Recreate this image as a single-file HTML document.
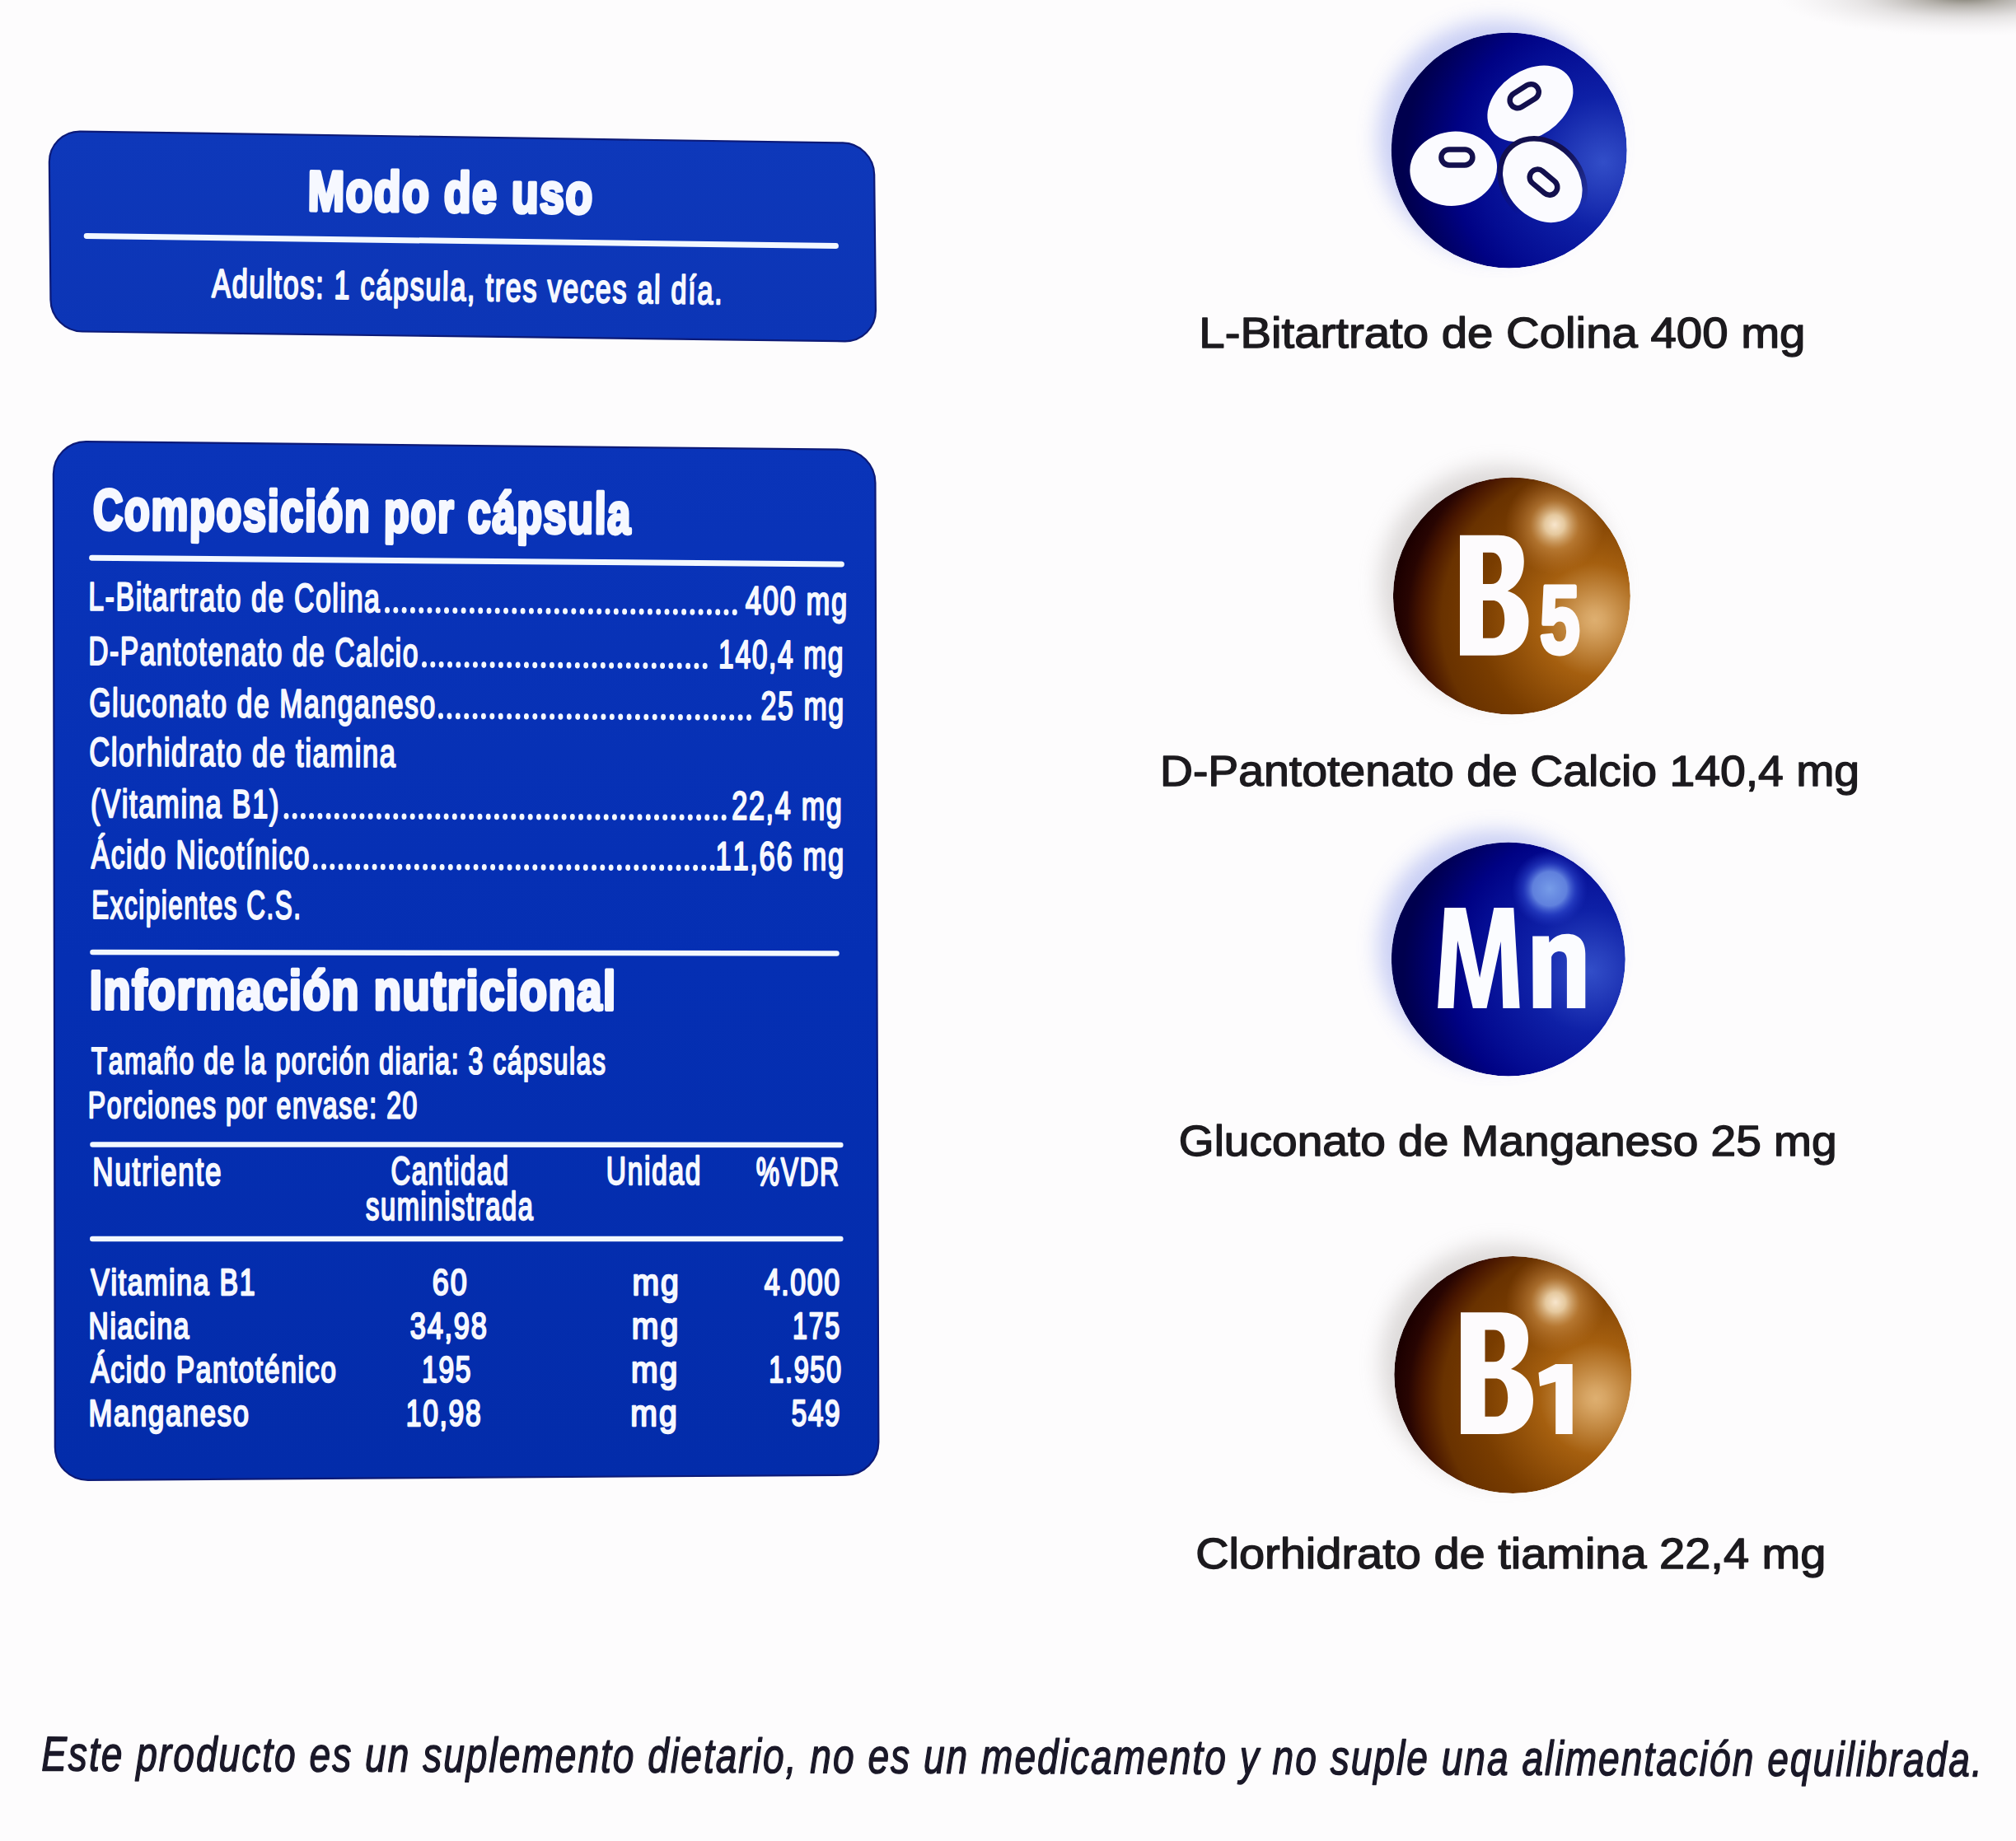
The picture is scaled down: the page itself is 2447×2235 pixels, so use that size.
<!DOCTYPE html><html><head><meta charset="utf-8"><title>Modo de uso</title><style>
html,body{margin:0;padding:0;background:#fdfcfd;}body{width:2447px;height:2235px;overflow:hidden;}
svg{display:block;font-family:"Liberation Sans",sans-serif;}text{font-kerning:none;font-variant-ligatures:none;white-space:pre;}
</style></head><body>
<svg xmlns="http://www.w3.org/2000/svg" width="2447" height="2235" viewBox="0 0 2447 2235">
<defs>
<filter id="blur20" x="-100%" y="-200%" width="300%" height="500%"><feGaussianBlur stdDeviation="14"/></filter>
<filter id="blurG" x="-50%" y="-50%" width="200%" height="200%"><feGaussianBlur stdDeviation="13"/></filter>
<filter id="blur8" x="-50%" y="-50%" width="200%" height="200%"><feGaussianBlur stdDeviation="7"/></filter>
<filter id="blur3" x="-50%" y="-50%" width="200%" height="200%"><feGaussianBlur stdDeviation="2.5"/></filter>
<linearGradient id="gBox1" x1="0" y1="0" x2="0" y2="1"><stop offset="0" stop-color="#0e38ba"/><stop offset="1" stop-color="#0c35b6"/></linearGradient>
<linearGradient id="gBox2" x1="0" y1="0" x2="0" y2="1"><stop offset="0" stop-color="#0a34b9"/><stop offset="0.5" stop-color="#052fb3"/><stop offset="1" stop-color="#032caa"/></linearGradient>
<radialGradient id="gBlueC" cx="0.9" cy="0.55" r="0.85"><stop offset="0.00" stop-color="rgb(50,78,200)"/><stop offset="0.12" stop-color="rgb(38,62,188)"/><stop offset="0.33" stop-color="rgb(14,32,166)"/><stop offset="0.62" stop-color="rgb(4,12,146)"/><stop offset="0.75" stop-color="rgb(0,2,132)"/><stop offset="0.95" stop-color="rgb(0,0,88)"/><stop offset="1.00" stop-color="rgb(0,0,78)"/></radialGradient>
<radialGradient id="gBlue" cx="0.85" cy="0.55" r="0.8"><stop offset="0.00" stop-color="rgb(50,78,200)"/><stop offset="0.12" stop-color="rgb(38,62,188)"/><stop offset="0.33" stop-color="rgb(14,32,166)"/><stop offset="0.62" stop-color="rgb(4,12,146)"/><stop offset="0.75" stop-color="rgb(0,2,132)"/><stop offset="0.95" stop-color="rgb(0,0,88)"/><stop offset="1.00" stop-color="rgb(0,0,78)"/></radialGradient>
<radialGradient id="gBrown" cx="0.85" cy="0.6" r="0.85"><stop offset="0.00" stop-color="rgb(222,175,112)"/><stop offset="0.05" stop-color="rgb(215,165,100)"/><stop offset="0.28" stop-color="rgb(165,95,15)"/><stop offset="0.58" stop-color="rgb(120,60,0)"/><stop offset="0.76" stop-color="rgb(105,50,0)"/><stop offset="0.86" stop-color="rgb(72,22,0)"/><stop offset="0.93" stop-color="rgb(40,5,2)"/><stop offset="1.00" stop-color="rgb(28,0,0)"/></radialGradient>
<radialGradient id="hlBlue" cx="0.5" cy="0.5" r="0.5"><stop offset="0" stop-color="rgb(118,156,232)" stop-opacity="1"/><stop offset="0.45" stop-color="rgb(105,140,228)" stop-opacity="0.9"/><stop offset="0.7" stop-color="rgb(60,90,220)" stop-opacity="0.45"/><stop offset="1" stop-color="rgb(40,60,200)" stop-opacity="0"/></radialGradient>
<radialGradient id="hlBlue2" cx="0.5" cy="0.5" r="0.5"><stop offset="0" stop-color="#4a6ae0" stop-opacity="0.75"/><stop offset="1" stop-color="#3050d0" stop-opacity="0"/></radialGradient>
<radialGradient id="hlBrown" cx="0.5" cy="0.5" r="0.5"><stop offset="0" stop-color="rgb(248,230,205)" stop-opacity="1"/><stop offset="0.2" stop-color="rgb(240,215,175)" stop-opacity="0.9"/><stop offset="0.5" stop-color="rgb(210,150,80)" stop-opacity="0.55"/><stop offset="1" stop-color="rgb(190,120,50)" stop-opacity="0"/></radialGradient>
<radialGradient id="shadeB" cx="0.62" cy="0.38" r="0.62"><stop offset="0.75" stop-color="#000" stop-opacity="0"/><stop offset="1" stop-color="#000" stop-opacity="0.18"/></radialGradient>
</defs>
<radialGradient id="gSmudge" gradientUnits="userSpaceOnUse" cx="0" cy="0" r="1" gradientTransform="translate(2385 -4) scale(230 48)"><stop offset="0" stop-color="rgb(112,110,96)" stop-opacity="0.92"/><stop offset="0.22" stop-color="rgb(135,130,120)" stop-opacity="0.62"/><stop offset="0.55" stop-color="rgb(175,170,168)" stop-opacity="0.3"/><stop offset="1" stop-color="rgb(220,215,220)" stop-opacity="0"/></radialGradient><rect x="2100" y="0" width="347" height="70" fill="url(#gSmudge)"/>
<path d="M59.86 197.00C59.66 176.01 76.51 159.25 97.50 159.57L1022.80 173.43C1043.79 173.75 1060.98 191.01 1061.19 212.00L1062.91 376.80C1063.12 397.79 1046.29 414.58 1025.30 414.31L99.80 402.49C78.81 402.22 61.64 384.99 61.44 364.00Z" fill="url(#gBox1)" stroke="#0c1a78" stroke-width="2.2"/>
<text x="373.53" y="255.20" font-size="68.17" font-weight="bold" textLength="346.86" lengthAdjust="spacingAndGlyphs" fill="#f6f8ff" transform="rotate(0.600 377.10 255.20)" stroke="#f6f8ff" stroke-width="4.60" stroke-linejoin="round" letter-spacing="2.045">Modo de uso</text>
<line x1="105.20" y1="286.55" x2="1014.50" y2="298.55" stroke="#f2f8ff" stroke-width="7.00" stroke-linecap="round"/>
<text x="257.08" y="360.45" font-size="48.40" textLength="621.09" lengthAdjust="spacingAndGlyphs" fill="#f6f8ff" transform="rotate(0.800 257.15 360.45)" stroke="#f6f8ff" stroke-width="2.30" stroke-linejoin="round" letter-spacing="2.420">Adultos: 1 cápsula, tres veces al día.</text>
<path d="M64.87 575.60C64.83 553.51 82.71 535.79 104.80 536.03L1022.30 545.77C1044.39 546.01 1062.36 564.11 1062.44 586.20L1066.36 1750.50C1066.44 1772.59 1048.59 1790.62 1026.50 1790.76L106.90 1796.84C84.81 1796.98 66.87 1779.19 66.83 1757.10Z" fill="url(#gBox2)" stroke="#0c1a78" stroke-width="2.2"/>
<text x="112.67" y="642.55" font-size="69.48" font-weight="bold" textLength="654.18" lengthAdjust="spacingAndGlyphs" fill="#f6f8ff" transform="rotate(0.450 114.75 642.55)" stroke="#f6f8ff" stroke-width="4.30" stroke-linejoin="round" letter-spacing="2.084">Composición por cápsula</text>
<line x1="111.60" y1="677.33" x2="1021.40" y2="684.97" stroke="#f2f8ff" stroke-width="7.00" stroke-linecap="round"/>
<text x="107.19" y="740.65" font-size="48.26" textLength="355.35" lengthAdjust="spacingAndGlyphs" fill="#f6f8ff" transform="rotate(0.350 109.95 740.65)" stroke="#f6f8ff" stroke-width="2.30" stroke-linejoin="round" letter-spacing="2.413">L-Bitartrato de Colina</text>
<g fill="#f4f8ff" transform="rotate(0.350 467.00 743.99)"><ellipse cx="470.0" cy="740.7" rx="3.0" ry="3.8"/><ellipse cx="480.3" cy="740.7" rx="3.0" ry="3.8"/><ellipse cx="490.6" cy="740.7" rx="3.0" ry="3.8"/><ellipse cx="500.9" cy="740.7" rx="3.0" ry="3.8"/><ellipse cx="511.2" cy="740.7" rx="3.0" ry="3.8"/><ellipse cx="521.4" cy="740.7" rx="3.0" ry="3.8"/><ellipse cx="531.7" cy="740.7" rx="3.0" ry="3.8"/><ellipse cx="542.0" cy="740.7" rx="3.0" ry="3.8"/><ellipse cx="552.3" cy="740.7" rx="3.0" ry="3.8"/><ellipse cx="562.6" cy="740.7" rx="3.0" ry="3.8"/><ellipse cx="572.9" cy="740.7" rx="3.0" ry="3.8"/><ellipse cx="583.2" cy="740.7" rx="3.0" ry="3.8"/><ellipse cx="593.5" cy="740.7" rx="3.0" ry="3.8"/><ellipse cx="603.7" cy="740.7" rx="3.0" ry="3.8"/><ellipse cx="614.0" cy="740.7" rx="3.0" ry="3.8"/><ellipse cx="624.3" cy="740.7" rx="3.0" ry="3.8"/><ellipse cx="634.6" cy="740.7" rx="3.0" ry="3.8"/><ellipse cx="644.9" cy="740.7" rx="3.0" ry="3.8"/><ellipse cx="655.2" cy="740.7" rx="3.0" ry="3.8"/><ellipse cx="665.5" cy="740.7" rx="3.0" ry="3.8"/><ellipse cx="675.8" cy="740.7" rx="3.0" ry="3.8"/><ellipse cx="686.0" cy="740.7" rx="3.0" ry="3.8"/><ellipse cx="696.3" cy="740.7" rx="3.0" ry="3.8"/><ellipse cx="706.6" cy="740.7" rx="3.0" ry="3.8"/><ellipse cx="716.9" cy="740.7" rx="3.0" ry="3.8"/><ellipse cx="727.2" cy="740.7" rx="3.0" ry="3.8"/><ellipse cx="737.5" cy="740.7" rx="3.0" ry="3.8"/><ellipse cx="747.8" cy="740.7" rx="3.0" ry="3.8"/><ellipse cx="758.1" cy="740.7" rx="3.0" ry="3.8"/><ellipse cx="768.3" cy="740.7" rx="3.0" ry="3.8"/><ellipse cx="778.6" cy="740.7" rx="3.0" ry="3.8"/><ellipse cx="788.9" cy="740.7" rx="3.0" ry="3.8"/><ellipse cx="799.2" cy="740.7" rx="3.0" ry="3.8"/><ellipse cx="809.5" cy="740.7" rx="3.0" ry="3.8"/><ellipse cx="819.8" cy="740.7" rx="3.0" ry="3.8"/><ellipse cx="830.1" cy="740.7" rx="3.0" ry="3.8"/><ellipse cx="840.4" cy="740.7" rx="3.0" ry="3.8"/><ellipse cx="850.6" cy="740.7" rx="3.0" ry="3.8"/><ellipse cx="860.9" cy="740.7" rx="3.0" ry="3.8"/><ellipse cx="871.2" cy="740.7" rx="3.0" ry="3.8"/><ellipse cx="881.5" cy="740.7" rx="3.0" ry="3.8"/><ellipse cx="891.8" cy="740.7" rx="3.0" ry="3.8"/></g>
<text x="904.86" y="745.51" font-size="48.26" textLength="124.92" lengthAdjust="spacingAndGlyphs" fill="#f6f8ff" transform="rotate(0.350 905.65 745.51)" stroke="#f6f8ff" stroke-width="2.30" stroke-linejoin="round" letter-spacing="2.413">400 mg</text>
<text x="107.21" y="806.65" font-size="48.26" textLength="401.70" lengthAdjust="spacingAndGlyphs" fill="#f6f8ff" transform="rotate(0.310 109.95 806.65)" stroke="#f6f8ff" stroke-width="2.30" stroke-linejoin="round" letter-spacing="2.413">D-Pantotenato de Calcio</text>
<g fill="#f4f8ff" transform="rotate(0.310 512.00 809.98)"><ellipse cx="515.0" cy="806.7" rx="3.0" ry="3.8"/><ellipse cx="525.3" cy="806.7" rx="3.0" ry="3.8"/><ellipse cx="535.6" cy="806.7" rx="3.0" ry="3.8"/><ellipse cx="546.0" cy="806.7" rx="3.0" ry="3.8"/><ellipse cx="556.3" cy="806.7" rx="3.0" ry="3.8"/><ellipse cx="566.6" cy="806.7" rx="3.0" ry="3.8"/><ellipse cx="576.9" cy="806.7" rx="3.0" ry="3.8"/><ellipse cx="587.3" cy="806.7" rx="3.0" ry="3.8"/><ellipse cx="597.6" cy="806.7" rx="3.0" ry="3.8"/><ellipse cx="607.9" cy="806.7" rx="3.0" ry="3.8"/><ellipse cx="618.2" cy="806.7" rx="3.0" ry="3.8"/><ellipse cx="628.6" cy="806.7" rx="3.0" ry="3.8"/><ellipse cx="638.9" cy="806.7" rx="3.0" ry="3.8"/><ellipse cx="649.2" cy="806.7" rx="3.0" ry="3.8"/><ellipse cx="659.5" cy="806.7" rx="3.0" ry="3.8"/><ellipse cx="669.9" cy="806.7" rx="3.0" ry="3.8"/><ellipse cx="680.2" cy="806.7" rx="3.0" ry="3.8"/><ellipse cx="690.5" cy="806.7" rx="3.0" ry="3.8"/><ellipse cx="700.8" cy="806.7" rx="3.0" ry="3.8"/><ellipse cx="711.2" cy="806.7" rx="3.0" ry="3.8"/><ellipse cx="721.5" cy="806.7" rx="3.0" ry="3.8"/><ellipse cx="731.8" cy="806.7" rx="3.0" ry="3.8"/><ellipse cx="742.1" cy="806.7" rx="3.0" ry="3.8"/><ellipse cx="752.5" cy="806.7" rx="3.0" ry="3.8"/><ellipse cx="762.8" cy="806.7" rx="3.0" ry="3.8"/><ellipse cx="773.1" cy="806.7" rx="3.0" ry="3.8"/><ellipse cx="783.4" cy="806.7" rx="3.0" ry="3.8"/><ellipse cx="793.8" cy="806.7" rx="3.0" ry="3.8"/><ellipse cx="804.1" cy="806.7" rx="3.0" ry="3.8"/><ellipse cx="814.4" cy="806.7" rx="3.0" ry="3.8"/><ellipse cx="824.7" cy="806.7" rx="3.0" ry="3.8"/><ellipse cx="835.1" cy="806.7" rx="3.0" ry="3.8"/><ellipse cx="845.4" cy="806.7" rx="3.0" ry="3.8"/><ellipse cx="855.7" cy="806.7" rx="3.0" ry="3.8"/></g>
<text x="872.10" y="810.79" font-size="48.26" textLength="153.09" lengthAdjust="spacingAndGlyphs" fill="#f6f8ff" transform="rotate(0.310 874.65 810.79)" stroke="#f6f8ff" stroke-width="2.30" stroke-linejoin="round" letter-spacing="2.413">140,4 mg</text>
<text x="108.26" y="869.45" font-size="48.26" textLength="421.68" lengthAdjust="spacingAndGlyphs" fill="#f6f8ff" transform="rotate(0.270 109.95 869.45)" stroke="#f6f8ff" stroke-width="2.30" stroke-linejoin="round" letter-spacing="2.413">Gluconato de Manganeso</text>
<g fill="#f4f8ff" transform="rotate(0.270 532.00 872.59)"><ellipse cx="535.0" cy="869.3" rx="3.0" ry="3.8"/><ellipse cx="545.4" cy="869.3" rx="3.0" ry="3.8"/><ellipse cx="555.8" cy="869.3" rx="3.0" ry="3.8"/><ellipse cx="566.2" cy="869.3" rx="3.0" ry="3.8"/><ellipse cx="576.6" cy="869.3" rx="3.0" ry="3.8"/><ellipse cx="586.9" cy="869.3" rx="3.0" ry="3.8"/><ellipse cx="597.3" cy="869.3" rx="3.0" ry="3.8"/><ellipse cx="607.7" cy="869.3" rx="3.0" ry="3.8"/><ellipse cx="618.1" cy="869.3" rx="3.0" ry="3.8"/><ellipse cx="628.5" cy="869.3" rx="3.0" ry="3.8"/><ellipse cx="638.9" cy="869.3" rx="3.0" ry="3.8"/><ellipse cx="649.3" cy="869.3" rx="3.0" ry="3.8"/><ellipse cx="659.7" cy="869.3" rx="3.0" ry="3.8"/><ellipse cx="670.1" cy="869.3" rx="3.0" ry="3.8"/><ellipse cx="680.4" cy="869.3" rx="3.0" ry="3.8"/><ellipse cx="690.8" cy="869.3" rx="3.0" ry="3.8"/><ellipse cx="701.2" cy="869.3" rx="3.0" ry="3.8"/><ellipse cx="711.6" cy="869.3" rx="3.0" ry="3.8"/><ellipse cx="722.0" cy="869.3" rx="3.0" ry="3.8"/><ellipse cx="732.4" cy="869.3" rx="3.0" ry="3.8"/><ellipse cx="742.8" cy="869.3" rx="3.0" ry="3.8"/><ellipse cx="753.2" cy="869.3" rx="3.0" ry="3.8"/><ellipse cx="763.6" cy="869.3" rx="3.0" ry="3.8"/><ellipse cx="773.9" cy="869.3" rx="3.0" ry="3.8"/><ellipse cx="784.3" cy="869.3" rx="3.0" ry="3.8"/><ellipse cx="794.7" cy="869.3" rx="3.0" ry="3.8"/><ellipse cx="805.1" cy="869.3" rx="3.0" ry="3.8"/><ellipse cx="815.5" cy="869.3" rx="3.0" ry="3.8"/><ellipse cx="825.9" cy="869.3" rx="3.0" ry="3.8"/><ellipse cx="836.3" cy="869.3" rx="3.0" ry="3.8"/><ellipse cx="846.7" cy="869.3" rx="3.0" ry="3.8"/><ellipse cx="857.1" cy="869.3" rx="3.0" ry="3.8"/><ellipse cx="867.4" cy="869.3" rx="3.0" ry="3.8"/><ellipse cx="877.8" cy="869.3" rx="3.0" ry="3.8"/><ellipse cx="888.2" cy="869.3" rx="3.0" ry="3.8"/><ellipse cx="898.6" cy="869.3" rx="3.0" ry="3.8"/><ellipse cx="909.0" cy="869.3" rx="3.0" ry="3.8"/></g>
<text x="923.45" y="873.29" font-size="48.26" textLength="102.26" lengthAdjust="spacingAndGlyphs" fill="#f6f8ff" transform="rotate(0.270 925.15 873.29)" stroke="#f6f8ff" stroke-width="2.30" stroke-linejoin="round" letter-spacing="2.413">25 mg</text>
<text x="108.21" y="929.35" font-size="48.26" textLength="373.36" lengthAdjust="spacingAndGlyphs" fill="#f6f8ff" transform="rotate(0.230 109.95 929.35)" stroke="#f6f8ff" stroke-width="2.30" stroke-linejoin="round" letter-spacing="2.413">Clorhidrato de tiamina</text>
<text x="110.02" y="992.05" font-size="48.26" textLength="230.07" lengthAdjust="spacingAndGlyphs" fill="#f6f8ff" transform="rotate(0.190 112.15 992.05)" stroke="#f6f8ff" stroke-width="2.30" stroke-linejoin="round" letter-spacing="2.413">(Vitamina B1)</text>
<g fill="#f4f8ff" transform="rotate(0.190 344.50 993.97)"><ellipse cx="347.5" cy="990.7" rx="3.0" ry="3.8"/><ellipse cx="357.7" cy="990.7" rx="3.0" ry="3.8"/><ellipse cx="367.9" cy="990.7" rx="3.0" ry="3.8"/><ellipse cx="378.1" cy="990.7" rx="3.0" ry="3.8"/><ellipse cx="388.4" cy="990.7" rx="3.0" ry="3.8"/><ellipse cx="398.6" cy="990.7" rx="3.0" ry="3.8"/><ellipse cx="408.8" cy="990.7" rx="3.0" ry="3.8"/><ellipse cx="419.0" cy="990.7" rx="3.0" ry="3.8"/><ellipse cx="429.2" cy="990.7" rx="3.0" ry="3.8"/><ellipse cx="439.4" cy="990.7" rx="3.0" ry="3.8"/><ellipse cx="449.7" cy="990.7" rx="3.0" ry="3.8"/><ellipse cx="459.9" cy="990.7" rx="3.0" ry="3.8"/><ellipse cx="470.1" cy="990.7" rx="3.0" ry="3.8"/><ellipse cx="480.3" cy="990.7" rx="3.0" ry="3.8"/><ellipse cx="490.5" cy="990.7" rx="3.0" ry="3.8"/><ellipse cx="500.7" cy="990.7" rx="3.0" ry="3.8"/><ellipse cx="510.9" cy="990.7" rx="3.0" ry="3.8"/><ellipse cx="521.2" cy="990.7" rx="3.0" ry="3.8"/><ellipse cx="531.4" cy="990.7" rx="3.0" ry="3.8"/><ellipse cx="541.6" cy="990.7" rx="3.0" ry="3.8"/><ellipse cx="551.8" cy="990.7" rx="3.0" ry="3.8"/><ellipse cx="562.0" cy="990.7" rx="3.0" ry="3.8"/><ellipse cx="572.2" cy="990.7" rx="3.0" ry="3.8"/><ellipse cx="582.5" cy="990.7" rx="3.0" ry="3.8"/><ellipse cx="592.7" cy="990.7" rx="3.0" ry="3.8"/><ellipse cx="602.9" cy="990.7" rx="3.0" ry="3.8"/><ellipse cx="613.1" cy="990.7" rx="3.0" ry="3.8"/><ellipse cx="623.3" cy="990.7" rx="3.0" ry="3.8"/><ellipse cx="633.5" cy="990.7" rx="3.0" ry="3.8"/><ellipse cx="643.7" cy="990.7" rx="3.0" ry="3.8"/><ellipse cx="654.0" cy="990.7" rx="3.0" ry="3.8"/><ellipse cx="664.2" cy="990.7" rx="3.0" ry="3.8"/><ellipse cx="674.4" cy="990.7" rx="3.0" ry="3.8"/><ellipse cx="684.6" cy="990.7" rx="3.0" ry="3.8"/><ellipse cx="694.8" cy="990.7" rx="3.0" ry="3.8"/><ellipse cx="705.0" cy="990.7" rx="3.0" ry="3.8"/><ellipse cx="715.3" cy="990.7" rx="3.0" ry="3.8"/><ellipse cx="725.5" cy="990.7" rx="3.0" ry="3.8"/><ellipse cx="735.7" cy="990.7" rx="3.0" ry="3.8"/><ellipse cx="745.9" cy="990.7" rx="3.0" ry="3.8"/><ellipse cx="756.1" cy="990.7" rx="3.0" ry="3.8"/><ellipse cx="766.3" cy="990.7" rx="3.0" ry="3.8"/><ellipse cx="776.5" cy="990.7" rx="3.0" ry="3.8"/><ellipse cx="786.8" cy="990.7" rx="3.0" ry="3.8"/><ellipse cx="797.0" cy="990.7" rx="3.0" ry="3.8"/><ellipse cx="807.2" cy="990.7" rx="3.0" ry="3.8"/><ellipse cx="817.4" cy="990.7" rx="3.0" ry="3.8"/><ellipse cx="827.6" cy="990.7" rx="3.0" ry="3.8"/><ellipse cx="837.8" cy="990.7" rx="3.0" ry="3.8"/><ellipse cx="848.1" cy="990.7" rx="3.0" ry="3.8"/><ellipse cx="858.3" cy="990.7" rx="3.0" ry="3.8"/><ellipse cx="868.5" cy="990.7" rx="3.0" ry="3.8"/><ellipse cx="878.7" cy="990.7" rx="3.0" ry="3.8"/></g>
<text x="888.23" y="994.63" font-size="48.26" textLength="135.22" lengthAdjust="spacingAndGlyphs" fill="#f6f8ff" transform="rotate(0.190 889.95 994.63)" stroke="#f6f8ff" stroke-width="2.30" stroke-linejoin="round" letter-spacing="2.413">22,4 mg</text>
<text x="110.78" y="1053.75" font-size="48.26" textLength="266.14" lengthAdjust="spacingAndGlyphs" fill="#f6f8ff" transform="rotate(0.150 110.85 1053.75)" stroke="#f6f8ff" stroke-width="2.30" stroke-linejoin="round" letter-spacing="2.413">Ácido Nicotínico</text>
<g fill="#f4f8ff" transform="rotate(0.150 379.80 1055.61)"><ellipse cx="382.8" cy="1052.3" rx="3.0" ry="3.8"/><ellipse cx="393.1" cy="1052.3" rx="3.0" ry="3.8"/><ellipse cx="403.3" cy="1052.3" rx="3.0" ry="3.8"/><ellipse cx="413.6" cy="1052.3" rx="3.0" ry="3.8"/><ellipse cx="423.8" cy="1052.3" rx="3.0" ry="3.8"/><ellipse cx="434.1" cy="1052.3" rx="3.0" ry="3.8"/><ellipse cx="444.3" cy="1052.3" rx="3.0" ry="3.8"/><ellipse cx="454.6" cy="1052.3" rx="3.0" ry="3.8"/><ellipse cx="464.8" cy="1052.3" rx="3.0" ry="3.8"/><ellipse cx="475.1" cy="1052.3" rx="3.0" ry="3.8"/><ellipse cx="485.3" cy="1052.3" rx="3.0" ry="3.8"/><ellipse cx="495.6" cy="1052.3" rx="3.0" ry="3.8"/><ellipse cx="505.8" cy="1052.3" rx="3.0" ry="3.8"/><ellipse cx="516.1" cy="1052.3" rx="3.0" ry="3.8"/><ellipse cx="526.3" cy="1052.3" rx="3.0" ry="3.8"/><ellipse cx="536.6" cy="1052.3" rx="3.0" ry="3.8"/><ellipse cx="546.8" cy="1052.3" rx="3.0" ry="3.8"/><ellipse cx="557.1" cy="1052.3" rx="3.0" ry="3.8"/><ellipse cx="567.3" cy="1052.3" rx="3.0" ry="3.8"/><ellipse cx="577.6" cy="1052.3" rx="3.0" ry="3.8"/><ellipse cx="587.8" cy="1052.3" rx="3.0" ry="3.8"/><ellipse cx="598.1" cy="1052.3" rx="3.0" ry="3.8"/><ellipse cx="608.3" cy="1052.3" rx="3.0" ry="3.8"/><ellipse cx="618.6" cy="1052.3" rx="3.0" ry="3.8"/><ellipse cx="628.8" cy="1052.3" rx="3.0" ry="3.8"/><ellipse cx="639.1" cy="1052.3" rx="3.0" ry="3.8"/><ellipse cx="649.3" cy="1052.3" rx="3.0" ry="3.8"/><ellipse cx="659.6" cy="1052.3" rx="3.0" ry="3.8"/><ellipse cx="669.8" cy="1052.3" rx="3.0" ry="3.8"/><ellipse cx="680.1" cy="1052.3" rx="3.0" ry="3.8"/><ellipse cx="690.3" cy="1052.3" rx="3.0" ry="3.8"/><ellipse cx="700.6" cy="1052.3" rx="3.0" ry="3.8"/><ellipse cx="710.8" cy="1052.3" rx="3.0" ry="3.8"/><ellipse cx="721.1" cy="1052.3" rx="3.0" ry="3.8"/><ellipse cx="731.3" cy="1052.3" rx="3.0" ry="3.8"/><ellipse cx="741.6" cy="1052.3" rx="3.0" ry="3.8"/><ellipse cx="751.8" cy="1052.3" rx="3.0" ry="3.8"/><ellipse cx="762.1" cy="1052.3" rx="3.0" ry="3.8"/><ellipse cx="772.3" cy="1052.3" rx="3.0" ry="3.8"/><ellipse cx="782.6" cy="1052.3" rx="3.0" ry="3.8"/><ellipse cx="792.8" cy="1052.3" rx="3.0" ry="3.8"/><ellipse cx="803.1" cy="1052.3" rx="3.0" ry="3.8"/><ellipse cx="813.3" cy="1052.3" rx="3.0" ry="3.8"/><ellipse cx="823.6" cy="1052.3" rx="3.0" ry="3.8"/><ellipse cx="833.8" cy="1052.3" rx="3.0" ry="3.8"/><ellipse cx="844.1" cy="1052.3" rx="3.0" ry="3.8"/><ellipse cx="854.3" cy="1052.3" rx="3.0" ry="3.8"/><ellipse cx="864.6" cy="1052.3" rx="3.0" ry="3.8"/></g>
<text x="868.53" y="1055.74" font-size="48.26" textLength="157.26" lengthAdjust="spacingAndGlyphs" fill="#f6f8ff" transform="rotate(0.150 871.15 1055.74)" stroke="#f6f8ff" stroke-width="2.30" stroke-linejoin="round" letter-spacing="2.413">11,66 mg</text>
<text x="111.17" y="1114.85" font-size="48.26" textLength="255.41" lengthAdjust="spacingAndGlyphs" fill="#f6f8ff" transform="rotate(0.110 113.75 1114.85)" stroke="#f6f8ff" stroke-width="2.30" stroke-linejoin="round" letter-spacing="2.413">Excipientes C.S.</text>
<line x1="112.45" y1="1156.11" x2="1015.55" y2="1157.49" stroke="#f2f8ff" stroke-width="6.50" stroke-linecap="round"/>
<text x="108.72" y="1224.65" font-size="66.42" font-weight="bold" textLength="639.99" lengthAdjust="spacingAndGlyphs" fill="#f6f8ff" transform="rotate(0.100 112.35 1224.65)" stroke="#f6f8ff" stroke-width="4.30" stroke-linejoin="round" letter-spacing="1.993">Información nutricional</text>
<text x="110.64" y="1303.15" font-size="45.35" textLength="625.75" lengthAdjust="spacingAndGlyphs" fill="#f6f8ff" transform="rotate(0.050 111.35 1303.15)" stroke="#f6f8ff" stroke-width="2.30" stroke-linejoin="round" letter-spacing="2.267">Tamaño de la porción diaria: 3 cápsulas</text>
<text x="106.83" y="1356.95" font-size="45.35" textLength="401.17" lengthAdjust="spacingAndGlyphs" fill="#f6f8ff" transform="rotate(0.050 109.45 1356.95)" stroke="#f6f8ff" stroke-width="2.30" stroke-linejoin="round" letter-spacing="2.267">Porciones por envase: 20</text>
<line x1="112.45" y1="1389.40" x2="1020.35" y2="1389.90" stroke="#f2f8ff" stroke-width="6.50" stroke-linecap="round"/>
<text x="112.28" y="1438.75" font-size="47.53" textLength="157.88" lengthAdjust="spacingAndGlyphs" fill="#f6f8ff" stroke="#f6f8ff" stroke-width="2.30" stroke-linejoin="round" letter-spacing="2.376">Nutriente</text>
<text x="474.49" y="1438.15" font-size="47.53" textLength="144.11" lengthAdjust="spacingAndGlyphs" fill="#f6f8ff" stroke="#f6f8ff" stroke-width="2.30" stroke-linejoin="round" letter-spacing="2.376">Cantidad</text>
<text x="443.94" y="1481.15" font-size="47.53" textLength="204.74" lengthAdjust="spacingAndGlyphs" fill="#f6f8ff" stroke="#f6f8ff" stroke-width="2.30" stroke-linejoin="round" letter-spacing="2.376">suministrada</text>
<text x="735.87" y="1438.15" font-size="47.53" textLength="116.22" lengthAdjust="spacingAndGlyphs" fill="#f6f8ff" stroke="#f6f8ff" stroke-width="2.30" stroke-linejoin="round" letter-spacing="2.376">Unidad</text>
<text x="917.71" y="1438.85" font-size="47.53" textLength="102.01" lengthAdjust="spacingAndGlyphs" fill="#f6f8ff" stroke="#f6f8ff" stroke-width="2.30" stroke-linejoin="round" letter-spacing="2.376">%VDR</text>
<line x1="112.25" y1="1504.00" x2="1020.35" y2="1504.00" stroke="#f2f8ff" stroke-width="6.50" stroke-linecap="round"/>
<text x="110.20" y="1571.85" font-size="43.90" textLength="200.99" lengthAdjust="spacingAndGlyphs" fill="#f6f8ff" stroke="#f6f8ff" stroke-width="2.30" stroke-linejoin="round" letter-spacing="2.195">Vitamina B1</text>
<text x="524.82" y="1571.85" font-size="43.90" textLength="43.63" lengthAdjust="spacingAndGlyphs" fill="#f6f8ff" stroke="#f6f8ff" stroke-width="2.30" stroke-linejoin="round" letter-spacing="2.195">60</text>
<text x="767.55" y="1571.85" font-size="43.90" textLength="58.28" lengthAdjust="spacingAndGlyphs" fill="#f6f8ff" stroke="#f6f8ff" stroke-width="2.30" stroke-linejoin="round" letter-spacing="2.195">mg</text>
<text x="927.67" y="1571.85" font-size="43.90" textLength="93.19" lengthAdjust="spacingAndGlyphs" fill="#f6f8ff" stroke="#f6f8ff" stroke-width="2.30" stroke-linejoin="round" letter-spacing="2.195">4.000</text>
<text x="107.60" y="1625.35" font-size="43.90" textLength="123.42" lengthAdjust="spacingAndGlyphs" fill="#f6f8ff" stroke="#f6f8ff" stroke-width="2.30" stroke-linejoin="round" letter-spacing="2.195">Niacina</text>
<text x="497.84" y="1625.35" font-size="43.90" textLength="94.73" lengthAdjust="spacingAndGlyphs" fill="#f6f8ff" stroke="#f6f8ff" stroke-width="2.30" stroke-linejoin="round" letter-spacing="2.195">34,98</text>
<text x="766.85" y="1625.35" font-size="43.90" textLength="58.28" lengthAdjust="spacingAndGlyphs" fill="#f6f8ff" stroke="#f6f8ff" stroke-width="2.30" stroke-linejoin="round" letter-spacing="2.195">mg</text>
<text x="962.09" y="1625.35" font-size="43.90" textLength="58.73" lengthAdjust="spacingAndGlyphs" fill="#f6f8ff" stroke="#f6f8ff" stroke-width="2.30" stroke-linejoin="round" letter-spacing="2.195">175</text>
<text x="110.28" y="1677.65" font-size="43.90" textLength="299.25" lengthAdjust="spacingAndGlyphs" fill="#f6f8ff" stroke="#f6f8ff" stroke-width="2.30" stroke-linejoin="round" letter-spacing="2.195">Ácido Pantoténico</text>
<text x="512.09" y="1677.65" font-size="43.90" textLength="61.05" lengthAdjust="spacingAndGlyphs" fill="#f6f8ff" stroke="#f6f8ff" stroke-width="2.30" stroke-linejoin="round" letter-spacing="2.195">195</text>
<text x="766.05" y="1677.65" font-size="43.90" textLength="58.28" lengthAdjust="spacingAndGlyphs" fill="#f6f8ff" stroke="#f6f8ff" stroke-width="2.30" stroke-linejoin="round" letter-spacing="2.195">mg</text>
<text x="933.27" y="1677.65" font-size="43.90" textLength="89.47" lengthAdjust="spacingAndGlyphs" fill="#f6f8ff" stroke="#f6f8ff" stroke-width="2.30" stroke-linejoin="round" letter-spacing="2.195">1.950</text>
<text x="107.51" y="1730.65" font-size="43.90" textLength="196.22" lengthAdjust="spacingAndGlyphs" fill="#f6f8ff" stroke="#f6f8ff" stroke-width="2.30" stroke-linejoin="round" letter-spacing="2.195">Manganeso</text>
<text x="492.79" y="1730.65" font-size="43.90" textLength="92.50" lengthAdjust="spacingAndGlyphs" fill="#f6f8ff" stroke="#f6f8ff" stroke-width="2.30" stroke-linejoin="round" letter-spacing="2.195">10,98</text>
<text x="765.35" y="1730.65" font-size="43.90" textLength="58.28" lengthAdjust="spacingAndGlyphs" fill="#f6f8ff" stroke="#f6f8ff" stroke-width="2.30" stroke-linejoin="round" letter-spacing="2.195">mg</text>
<text x="960.82" y="1730.65" font-size="43.90" textLength="60.25" lengthAdjust="spacingAndGlyphs" fill="#f6f8ff" stroke="#f6f8ff" stroke-width="2.30" stroke-linejoin="round" letter-spacing="2.195">549</text>
<circle cx="1815.7" cy="168.5" r="143.0" fill="#8090e8" opacity="0.42" filter="url(#blurG)"/>
<clipPath id="cp1"><circle cx="1831.7" cy="182.5" r="143.0"/></clipPath>
<g clip-path="url(#cp1)">
<circle cx="1831.7" cy="182.5" r="143.0" fill="url(#gBlueC)"/>
</g>
<g>
<ellipse cx="1857.4" cy="125.8" rx="57" ry="40" transform="rotate(-35 1857.4 125.8)" fill="#fbfbff"/>
<ellipse cx="1764.2" cy="204.8" rx="53" ry="45" transform="rotate(-8 1764.2 204.8)" fill="#fbfbff"/>
<linearGradient id="gMaskC" gradientUnits="userSpaceOnUse" x1="1845" y1="195" x2="1905" y2="235"><stop offset="0" stop-color="#fff"/><stop offset="1" stop-color="#000"/></linearGradient>
<mask id="mkC" maskUnits="userSpaceOnUse" x="1780" y="130" width="190" height="190"><rect x="1780" y="130" width="190" height="190" fill="url(#gMaskC)"/></mask>
<ellipse cx="1872.3" cy="220.8" rx="60.2" ry="49.7" transform="rotate(48 1872.3 220.8)" fill="#13104e" mask="url(#mkC)"/>
<ellipse cx="1872.3" cy="220.8" rx="53.8" ry="43.3" transform="rotate(48 1872.3 220.8)" fill="#fbfbff"/>
<rect x="1831.2" y="107.2" width="38" height="19" rx="9.5" fill="none" stroke="#13104e" stroke-width="6.5" transform="rotate(-32 1850.2 116.7)"/>
<rect x="1749.4" y="181.4" width="38" height="19" rx="9.5" fill="none" stroke="#13104e" stroke-width="6.5" transform="rotate(0 1768.4 190.9)"/>
<rect x="1854.5" y="211.7" width="38" height="19" rx="9.5" fill="none" stroke="#13104e" stroke-width="6.5" transform="rotate(40 1873.5 221.2)"/>
</g>
<circle cx="1818.9" cy="709.6" r="144.0" fill="#b0aaa8" opacity="0.42" filter="url(#blurG)"/>
<clipPath id="cp2"><circle cx="1834.9" cy="723.6" r="144.0"/></clipPath>
<g clip-path="url(#cp2)">
<circle cx="1834.9" cy="723.6" r="144.0" fill="url(#gBrown)"/>
<circle cx="1887.0" cy="637.0" r="60.0" fill="url(#hlBrown)"/>
</g>
<path fill-rule="evenodd" fill="#fdfbfd" transform="translate(1772 649.7) scale(0.9487 0.9885)" d="M0.0 0.0 L49.0 0.0 C70.0 0.0 82.0 11.7 82.0 31.7 C82.0 51.7 73.0 62.7 61.0 68.7 C78.0 73.7 88.0 86.7 88.0 105.7 C88.0 132.7 72.0 147.7 45.0 147.7 L0.0 147.7 Z M29.5 21.2 L40.0 21.2 C49.0 21.2 53.5 28.7 53.5 40.7 C53.5 52.7 49.0 60.0 40.0 60.0 L29.5 60.0 Z M29.5 80.3 L42.0 80.3 C52.0 80.3 57.2 90.7 57.2 103.4 C57.2 116.7 52.0 126.5 42.0 126.5 L29.5 126.5 Z"/>
<text x="1868.78" y="793.20" font-size="116.28" font-weight="bold" textLength="49.18" lengthAdjust="spacingAndGlyphs" fill="#fdfbfd" stroke="#fdfbfd" stroke-width="5.00" stroke-linejoin="round">5</text>
<circle cx="1814.8" cy="1150.4" r="142.0" fill="#8090e8" opacity="0.42" filter="url(#blurG)"/>
<clipPath id="cp3"><circle cx="1830.8" cy="1164.4" r="142.0"/></clipPath>
<g clip-path="url(#cp3)">
<circle cx="1830.8" cy="1164.4" r="142.0" fill="url(#gBlue)"/>
<circle cx="1881.0" cy="1079.0" r="46.0" fill="url(#hlBlue)"/>
</g>
<path d="M1745.1 1223.9 L1753.4 1102 L1779 1102 L1796.1 1186.9 L1813.3 1102 L1837.3 1102 L1844.6 1223.9 L1824.3 1223.9 L1821.7 1143.1 L1804.5 1223.9 L1787.8 1223.9 L1769.1 1142.1 L1764.4 1223.9 Z" fill="#fbfcff"/>
<path d="M1860.7 1223.9 L1860.2 1136.4 L1880 1136.4 L1880.5 1144.2 C1886.25 1136.9 1893.5 1133.75 1901.9 1133.75 C1916.5 1133.75 1924.3 1142.1 1924.3 1157.7 L1924.3 1223.9 L1901.9 1223.9 L1901.9 1166 C1901.9 1158.75 1898.75 1155.1 1893 1155.1 C1888.3 1155.1 1884.7 1157.7 1883.1 1161.9 L1883.1 1223.9 Z" fill="#fbfcff"/>
<circle cx="1820.3" cy="1655.0" r="144.0" fill="#b0aaa8" opacity="0.42" filter="url(#blurG)"/>
<clipPath id="cp4"><circle cx="1836.3" cy="1669.0" r="144.0"/></clipPath>
<g clip-path="url(#cp4)">
<circle cx="1836.3" cy="1669.0" r="144.0" fill="url(#gBrown)"/>
<circle cx="1888.0" cy="1581.0" r="60.0" fill="url(#hlBrown)"/>
</g>
<path fill-rule="evenodd" fill="#fdfbfd" transform="translate(1773 1593.3)" d="M0.0 0.0 L49.0 0.0 C70.0 0.0 82.0 11.7 82.0 31.7 C82.0 51.7 73.0 62.7 61.0 68.7 C78.0 73.7 88.0 86.7 88.0 105.7 C88.0 132.7 72.0 147.7 45.0 147.7 L0.0 147.7 Z M29.5 21.2 L40.0 21.2 C49.0 21.2 53.5 28.7 53.5 40.7 C53.5 52.7 49.0 60.0 40.0 60.0 L29.5 60.0 Z M29.5 80.3 L42.0 80.3 C52.0 80.3 57.2 90.7 57.2 103.4 C57.2 116.7 52.0 126.5 42.0 126.5 L29.5 126.5 Z"/>
<path d="M1888.2 1656 L1908.7 1656 L1908.7 1741 L1888.2 1741 L1888.2 1677.5 L1869 1683 L1867.5 1666.5 Z" fill="#fdfbfd"/>
<text x="1455.38" y="421.50" font-size="51.31" textLength="736.05" lengthAdjust="spacingAndGlyphs" fill="#1c1a1e" stroke="#1c1a1e" stroke-width="1.40" stroke-linejoin="round">L-Bitartrato de Colina 400 mg</text>
<text x="1407.96" y="953.90" font-size="51.89" textLength="849.21" lengthAdjust="spacingAndGlyphs" fill="#1c1a1e" stroke="#1c1a1e" stroke-width="1.40" stroke-linejoin="round">D-Pantotenato de Calcio 140,4 mg</text>
<text x="1430.83" y="1402.60" font-size="51.16" textLength="798.72" lengthAdjust="spacingAndGlyphs" fill="#1c1a1e" stroke="#1c1a1e" stroke-width="1.40" stroke-linejoin="round">Gluconato de Manganeso 25 mg</text>
<text x="1451.16" y="1904.30" font-size="51.74" textLength="765.15" lengthAdjust="spacingAndGlyphs" fill="#1c1a1e" stroke="#1c1a1e" stroke-width="1.40" stroke-linejoin="round">Clorhidrato de tiamina 22,4 mg</text>
<text x="50.14" y="2149.45" font-size="59.16" font-style="italic" textLength="2357.62" lengthAdjust="spacingAndGlyphs" fill="#1a1828" transform="rotate(0.170 51.55 2149.45)" stroke="#1a1828" stroke-width="1.50" stroke-linejoin="round" letter-spacing="2.662">Este producto es un suplemento dietario, no es un medicamento y no suple una alimentación equilibrada.</text>
</svg></body></html>
